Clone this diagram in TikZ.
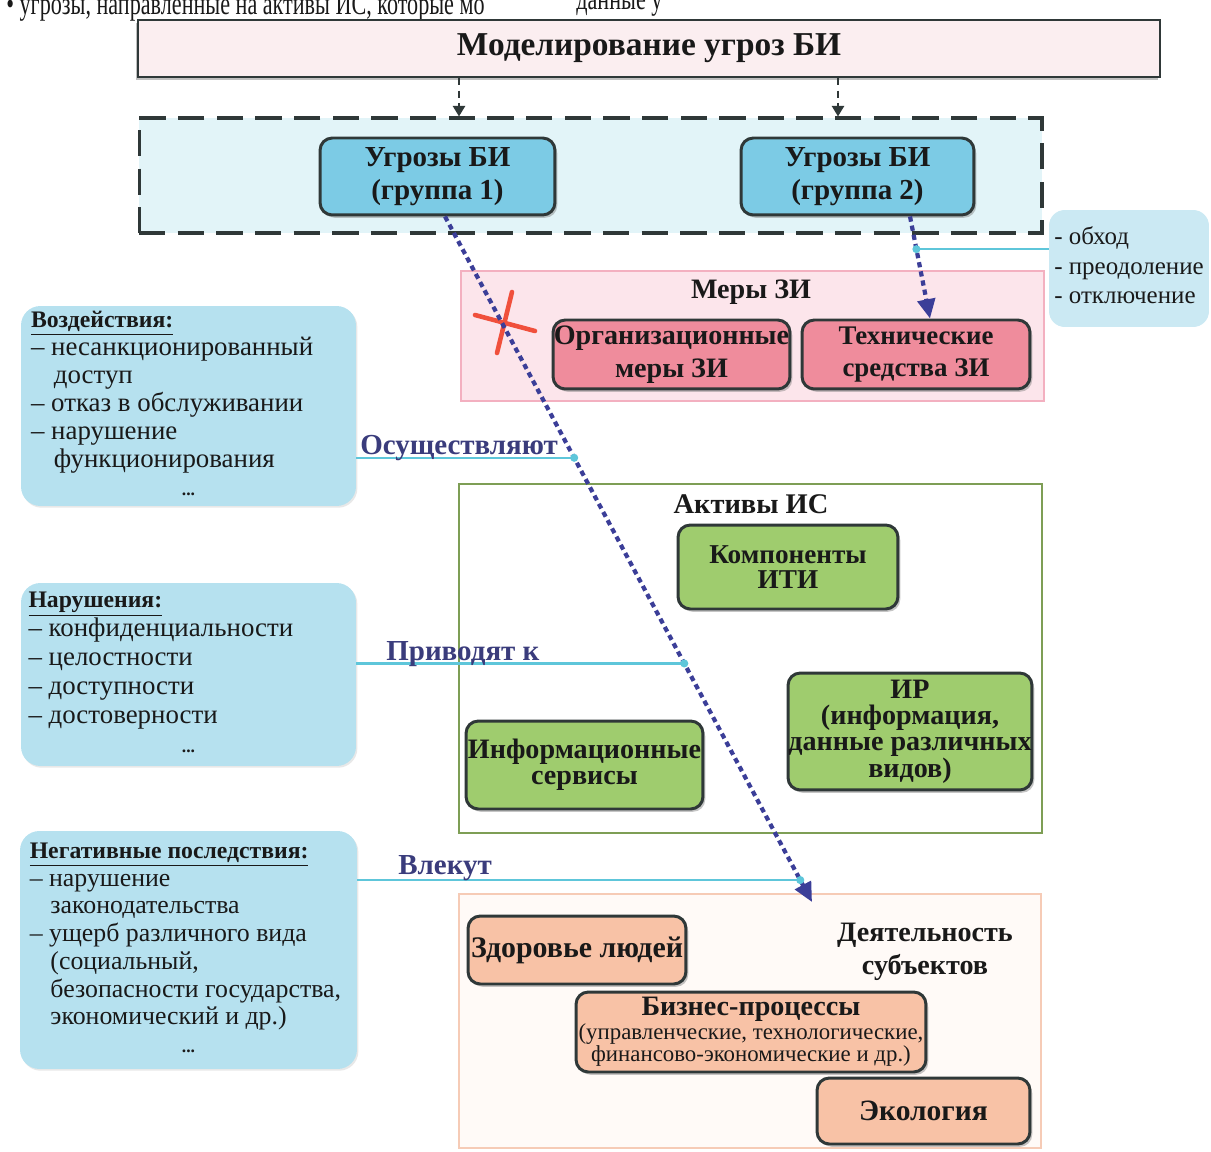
\documentclass[tikz,border=0pt]{standalone}
\usepackage{fontspec}
\usepackage{graphicx}
\setmainfont{Liberation Serif}
\usetikzlibrary{arrows.meta,shadows,calc}
\definecolor{titlefill}{HTML}{FBEEF0}
\definecolor{boxline}{HTML}{2F3838}
\definecolor{dashfill}{HTML}{E2F4F8}
\definecolor{threat}{HTML}{7CCBE5}
\definecolor{notefill}{HTML}{CBE9F3}
\definecolor{leftfill}{HTML}{B6E1EF}
\definecolor{merfill}{HTML}{FCE5EB}
\definecolor{merdraw}{HTML}{F3B0C0}
\definecolor{redfill}{HTML}{EF8C9C}
\definecolor{assetdraw}{HTML}{7E9E55}
\definecolor{greenfill}{HTML}{9FCC6E}
\definecolor{deyatdraw}{HTML}{F6CBB6}
\definecolor{deyatfill}{HTML}{FFFAF7}
\definecolor{peach}{HTML}{F8C2A6}
\definecolor{flowblue}{HTML}{3B3E98}
\definecolor{conncyan}{HTML}{5EC6DA}
\definecolor{lblblue}{HTML}{3A3C7C}
\definecolor{xred}{HTML}{F0503C}
\newcommand\fszHead{\fontsize{13.5}{16}\selectfont}
\newcommand\bx[1]{\bfseries\fontsize{#1}{18.5}\selectfont}
\begin{document}
\begin{tikzpicture}[x=0.02cm,y=-0.02cm,
  every node/.style={text=black!90},
  darkbox/.style={draw=boxline, line width=1.7pt, rounded corners=7pt, inner sep=0pt,
     align=center, font=\bx{16},
     drop shadow={shadow xshift=1.3pt, shadow yshift=-1.6pt, opacity=0.45}},
  threatbox/.style={darkbox, fill=threat},
  redbox/.style={darkbox, fill=redfill},
  greenbox/.style={darkbox, fill=greenfill},
  peachbox/.style={darkbox, fill=peach},
  titlebox/.style={draw=boxline, line width=1.5pt, fill=titlefill, inner sep=0pt,
     font=\bfseries\fontsize{19}{22}\selectfont,
     drop shadow={shadow xshift=-1pt, shadow yshift=-1.5pt, opacity=0.5}},
  dashbox/.style={draw=boxline, line width=1.8pt, dash pattern=on 15pt off 7pt, fill=dashfill, inner sep=0pt},
  notebox/.style={fill=notefill, rounded corners=9pt, inner sep=0pt,
     font=\fontsize{14.2}{16.8}\selectfont},
  leftbox/.style={fill=leftfill, rounded corners=11pt, inner sep=0pt,
     drop shadow={shadow xshift=0.8pt, shadow yshift=-1pt, opacity=0.18}},
  merbox/.style={draw=merdraw, line width=1.2pt, fill=merfill, inner sep=0pt},
  assetbox/.style={draw=assetdraw, line width=1.4pt, fill=white, inner sep=0pt},
  deyatbox/.style={draw=deyatdraw, line width=1.2pt, fill=deyatfill, inner sep=0pt},
  headtext/.style={font=\bfseries\fontsize{16.2}{19}\selectfont, inner sep=0pt},
  lbl/.style={font=\bfseries\fontsize{16.5}{19}\selectfont, text=lblblue, inner sep=0pt},
  flow/.style={draw=flowblue, line width=2.4pt, dash pattern=on 3pt off 2.3pt,
     -{Triangle[length=11pt,width=10pt]}},
  topflow/.style={draw=boxline, line width=1pt, dash pattern=on 4pt off 3pt,
     -{Triangle[length=6pt,width=7pt]}},
  conn/.style={draw=conncyan, line width=1.3pt},
  xmark/.style={draw=xred, line width=2.6pt, line cap=round}
]
\useasboundingbox (0,0) rectangle (1211,1152);

% top cut line of page text
\node[anchor=base west, inner sep=0pt, font=\fontsize{18}{20}\selectfont] (toptext) at (6,15) {\scalebox{0.70}[1]{• угрозы, направленные на активы ИС, которые мо}};
\node[anchor=base west, inner sep=0pt, font=\fontsize{18}{20}\selectfont] (toptext2) at (576,10) {\scalebox{0.70}[1]{данные у}};

% title
\node[titlebox, minimum width=20.44cm, minimum height=1.14cm] (title) at (649,48.5) {Моделирование угроз БИ};

% dashed threat group
\node[dashbox, minimum width=18.06cm, minimum height=2.30cm] (dash) at (590.5,175.5) {};
\node[threatbox, font=\bx{16.5}, minimum width=4.70cm, minimum height=1.54cm] (g1) at (437.5,176.5) {Угрозы БИ\\(группа 1)};
\node[threatbox, font=\bx{16.5}, minimum width=4.66cm, minimum height=1.54cm] (g2) at (857.5,176.5) {Угрозы БИ\\(группа 2)};

\coordinate (a1) at (459,0);
\coordinate (a2) at (838,0);
\draw[topflow] (title.south -| a1) -- (dash.north -| a1);
\draw[topflow] (title.south -| a2) -- (dash.north -| a2);

% note box
\node[notebox, minimum width=3.20cm, minimum height=2.34cm] (note) at (1129,268.5)
  {\begin{tabular}{@{}l@{}}- обход\\- преодоление\\- отключение\end{tabular}};

% measures
\node[merbox, minimum width=11.66cm, minimum height=2.60cm] (mery) at (752.5,336) {};
\node[headtext, font=\bfseries\fontsize{16}{19}\selectfont] (merytitle) at (751,292) {Меры ЗИ};
\node[redbox, minimum width=4.74cm, minimum height=1.38cm] (org) at (671.5,354.5) {Организационные\\меры ЗИ};
\node[redbox, font=\bx{15.3}, minimum width=4.56cm, minimum height=1.38cm] (tech) at (916,354.5) {Технические\\средства ЗИ};

% left boxes
\node[leftbox, minimum width=6.70cm, minimum height=4.00cm, font=\fontsize{15.3}{16}\selectfont] (vozd) at (188.5,406) {%
\begin{tabular}{@{}p{6.3cm}@{}}
\underline{\bfseries\fszHead Воздействия:}\\
– несанкционированный\\
\hspace*{0.85em}доступ\\
– отказ в обслуживании\\
– нарушение\\
\hspace*{0.85em}функционирования\\
\multicolumn{1}{@{}c@{}}{\bfseries\fontsize{10}{12}\selectfont ...}
\end{tabular}};

\node[leftbox, minimum width=6.70cm, minimum height=3.66cm, font=\fontsize{15.3}{16.5}\selectfont] (narush) at (188.5,674.5) {%
\begin{tabular}{@{}p{6.4cm}@{}}
\underline{\bfseries\fszHead Нарушения:}\\
– конфиденциальности\\
– целостности\\
– доступности\\
– достоверности\\
\multicolumn{1}{@{}c@{}}{\bfseries\fontsize{10}{12}\selectfont ...}
\end{tabular}};

\node[leftbox, minimum width=6.74cm, minimum height=4.76cm, font=\fontsize{14.7}{15.8}\selectfont] (neg) at (188.5,950) {%
\begin{tabular}{@{}p{6.35cm}@{}}
\underline{\bfseries\fszHead Негативные последствия:}\\
– нарушение\\
\hspace*{0.8em}законодательства\\
– ущерб различного вида\\
\hspace*{0.8em}(социальный,\\
\hspace*{0.8em}безопасности государства,\\
\hspace*{0.8em}экономический и др.)\\
\multicolumn{1}{@{}c@{}}{\bfseries\fontsize{10}{12}\selectfont ...}
\end{tabular}};

% assets
\node[assetbox, minimum width=11.66cm, minimum height=6.98cm] (aktivy) at (750.5,658.5) {};
\node[headtext] (aktt) at (751,504) {Активы ИС};
\node[greenbox, font=\bfseries\fontsize{15.5}{14.5}\selectfont, minimum width=4.40cm, minimum height=1.68cm] (komp) at (788,567) {Компоненты\\ИТИ};
\node[greenbox, font=\bfseries\fontsize{16}{15}\selectfont, minimum width=4.88cm, minimum height=2.34cm] (ir) at (910,731.5) {ИР\\(информация,\\данные различных\\видов)};
\node[greenbox, font=\bfseries\fontsize{16}{15}\selectfont, minimum width=4.74cm, minimum height=1.76cm] (serv) at (584.5,765) {Информационные\\сервисы};

% activity of subjects
\node[deyatbox, minimum width=11.64cm, minimum height=5.08cm] (deyat) at (750,1021) {};
\node[headtext, align=center, font=\bfseries\fontsize{16}{19}\selectfont] (deyatt) at (925,952) {Деятельность\\субъектов};
\node[peachbox, font=\bx{17}, minimum width=4.36cm, minimum height=1.36cm] (zdor) at (577,950) {Здоровье людей};
\node[peachbox, font=\fontsize{13}{11.5}\selectfont, minimum width=7.00cm, minimum height=1.60cm] (biz) at (751,1032) {{\bfseries\fontsize{16}{18}\selectfont Бизнес-процессы}\\(управленческие, технологические,\\финансово-экономические и др.)};
\node[peachbox, font=\bx{16.8}, minimum width=4.26cm, minimum height=1.32cm] (eko) at (923.5,1111) {Экология};

% red cross
\draw[xmark] (512,292) -- (497,353);
\draw[xmark] (475,315) -- (535,331);

% main flow arrow
\coordinate (ma) at (445,0);
\coordinate (me) at (812,902);
\draw[flow] (g1.south -| ma) -- (me);
\path (g1.south -| ma) -- (me)
  coordinate[pos=0.352] (d1)
  coordinate[pos=0.652] (d2)
  coordinate[pos=0.968] (d3);

% group 2 arrow
\coordinate (t2a) at (910,0);
\coordinate (t2b) at (930,0);
\draw[flow] (g2.south -| t2a) -- (tech.north -| t2b);
\path (g2.south -| t2a) -- (tech.north -| t2b) coordinate[pos=0.32] (d0);

% connectors
\draw[conn] (note.west |- d0) -- (d0);
\fill[conncyan] (d0) circle (2.3pt);
\draw[conn] (vozd.east |- d1) -- (d1);
\fill[conncyan] (d1) circle (2.3pt);
\draw[conn] (narush.east |- d2) -- (d2);
\fill[conncyan] (d2) circle (2.3pt);
\draw[conn] (neg.east |- d3) -- (d3);
\fill[conncyan] (d3) circle (2.3pt);

% labels
\node[lbl, anchor=base west] (l1) at (360,454) {Осуществляют};
\node[lbl, anchor=base west] (l2) at (386,660) {Приводят к};
\node[lbl, anchor=base west] (l3) at (398,874) {Влекут};
\end{tikzpicture}
\end{document}
